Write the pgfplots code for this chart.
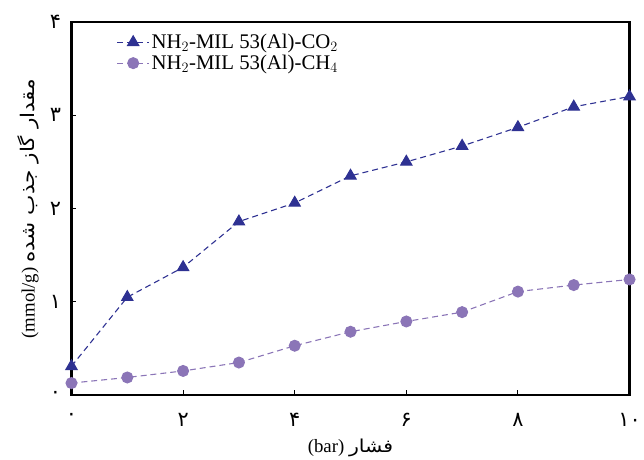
\documentclass[border=0pt]{standalone}
\usepackage{fontspec}
\setmainfont{Liberation Serif}
\newfontfamily\arabicfont[Script=Arabic]{DejaVu Sans}
\newfontfamily\arabicwide[Script=Arabic, FakeStretch=1.15]{DejaVu Sans}
\TeXXeTstate=1
\usepackage{pgfplots}
\pgfplotsset{compat=1.18}
\definecolor{coblue}{HTML}{2E3192}
\definecolor{chpurple}{HTML}{8B75B7}
\begin{document}
\begin{tikzpicture}
\begin{axis}[
  at={(0,0)}, anchor=south west,
  scale only axis, width=562bp, height=376bp,
  xmin=0, xmax=10, ymin=0, ymax=4,
  axis line style={line width=2.2pt},
  tick style={black, line width=0.9pt},
  tick align=inside, major tick length=5bp,
  xtick pos=bottom, ytick pos=left,
  xtick={0,2,4,6,8,10}, xticklabels={۰,۲,۴,۶,۸,۱۰},
  ytick={0,1,2,3,4}, yticklabels={۰,۱,۲,۳,۴},
  ticklabel style={font=\arabicfont\fontsize{21}{24}\selectfont},
  xticklabel style={yshift=-15bp},
  yticklabel style={xshift=-7bp},
  xlabel={\fontsize{19}{22}\selectfont (bar)\ {\arabicwide\fontsize{18}{21}\selectfont\beginR فشار\endR}},
  ylabel={\fontsize{19}{22}\selectfont (mmol/g)\ {\arabicwide\fontsize{19}{22}\selectfont\beginR مقدار گاز جذب شده\endR}},
  xlabel style={yshift=-5bp},
  ylabel style={yshift=4bp},
  legend style={draw=none, fill=none, at={(0.079,0.975)}, anchor=north west,
    font=\fontsize{21}{24}\selectfont, row sep=1bp, inner sep=1bp},
  legend cell align=left,
  legend image code/.code={
    \draw[#1, mark repeat=2, mark phase=2] plot coordinates {(0bp,0bp) (16bp,0bp) (32bp,0bp)};
  },
]
\addplot[coblue, line width=1.1pt, dash pattern=on 6bp off 4bp, mark=triangle*, mark size=6.5bp, mark options={solid, fill=coblue}]
  coordinates {(0,0.31) (1,1.05) (2,1.37) (3,1.86) (4,2.06) (5,2.35) (6,2.50) (7,2.67) (8,2.87) (9,3.09) (10,3.20)};
\addlegendentry{NH$_2$-MIL 53(Al)-CO$_2$}
\addplot[chpurple, line width=1.1pt, dash pattern=on 6bp off 4bp, mark=*, mark size=5.5bp, mark options={solid, fill=chpurple, draw=chpurple}]
  coordinates {(0,0.13) (1,0.19) (2,0.26) (3,0.35) (4,0.53) (5,0.68) (6,0.79) (7,0.89) (8,1.11) (9,1.18) (10,1.24)};
\addlegendentry{NH$_2$-MIL 53(Al)-CH$_4$}
\end{axis}
\path[use as bounding box] (-72bp,-55bp) rectangle (572bp,398bp);
\end{tikzpicture}
\end{document}
